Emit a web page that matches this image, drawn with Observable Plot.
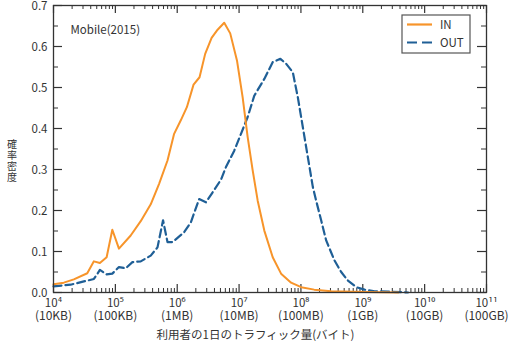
<!DOCTYPE html>
<html>
<head>
<meta charset="utf-8">
<script src="https://cdn.jsdelivr.net/npm/d3@7"></script>
<script src="https://cdn.jsdelivr.net/npm/@observablehq/plot@0.6"></script>
<style>
  html, body { margin: 0; padding: 0; background: #fff; }
  #chart { position: relative; width: 510px; height: 344px; }
</style>
</head>
<body>
<div id="chart"></div>
<script>
// ---- data (x given as log10 of bytes per user per day) ----
const inExp = [4.0, 4.167, 4.329, 4.546, 4.653, 4.75, 4.859, 4.951, 5.058, 5.248, 5.41, 5.572, 5.707, 5.843, 5.95, 6.058, 6.156, 6.264, 6.361, 6.452, 6.556, 6.653, 6.76, 6.857, 6.966, 7.058, 7.139, 7.22, 7.301, 7.408, 7.544, 7.679, 7.841, 8.003, 8.214, 8.489, 9.024, 9.575];
const inDensity = [0.02, 0.024, 0.032, 0.047, 0.076, 0.072, 0.086, 0.153, 0.107, 0.139, 0.174, 0.215, 0.265, 0.322, 0.387, 0.42, 0.452, 0.507, 0.525, 0.582, 0.621, 0.641, 0.658, 0.632, 0.566, 0.476, 0.379, 0.298, 0.224, 0.151, 0.086, 0.046, 0.024, 0.013, 0.007, 0.003, 0.001, 0.0];
const outExp = [4.0, 4.276, 4.491, 4.653, 4.75, 4.859, 4.951, 5.058, 5.167, 5.276, 5.41, 5.572, 5.681, 5.771, 5.843, 5.924, 6.112, 6.22, 6.355, 6.464, 6.598, 6.707, 6.788, 6.922, 7.031, 7.139, 7.246, 7.408, 7.545, 7.668, 7.76, 7.869, 7.95, 8.031, 8.112, 8.193, 8.246, 8.327, 8.408, 8.543, 8.651, 8.76, 8.895, 9.029, 9.191, 9.408, 9.731];
const outDensity = [0.015, 0.019, 0.027, 0.033, 0.055, 0.044, 0.046, 0.062, 0.059, 0.074, 0.076, 0.09, 0.11, 0.176, 0.123, 0.123, 0.147, 0.171, 0.228, 0.22, 0.25, 0.275, 0.306, 0.346, 0.387, 0.428, 0.48, 0.521, 0.562, 0.57, 0.558, 0.537, 0.476, 0.403, 0.33, 0.257, 0.224, 0.176, 0.127, 0.078, 0.05, 0.029, 0.013, 0.007, 0.003, 0.002, 0.0];

const tickExps = [4, 5, 6, 7, 8, 9, 10, 11];
const tickSup = ["⁴", "⁵", "⁶", "⁷", "⁸", "⁹", "¹⁰", "¹¹"];
const tickUnits = ["10KB", "100KB", "1MB", "10MB", "100MB", "1GB", "10GB", "100GB"];
const yTicks = [0, 0.1, 0.2, 0.3, 0.4, 0.5, 0.6, 0.7];

const seriesNames = ["IN", "OUT"];
const annotation = "Mobile(2015)";
const xTitle = "利用者の1日のトラフィック量(バイト)";
const yTitle = "確率密度";

// ---- styles ----
const ORANGE = "#f7942a";
const BLUE = "#1f5f96";
const INK = "#333";
const FONT = "'Noto Sans CJK JP', 'Noto Sans', sans-serif";

const W = 510, H = 344;
const mL = 53, mR = 24, mT = 5, mB = 52;
const innerW = W - mL - mR, innerH = H - mT - mB;

const inData = inExp.map((e, i) => ({bytes: 10 ** e, d: inDensity[i]}));
const outData = outExp.map((e, i) => ({bytes: 10 ** e, d: outDensity[i]}));

const majorX = tickExps.map(e => 10 ** e);
const minorX = [];
for (const e of tickExps.slice(0, -1)) for (let k = 2; k <= 9; k++) minorX.push(k * 10 ** e);
const minorY = yTicks.slice(0, -1).map(v => v + 0.05);
const supOf = new Map(majorX.map((v, i) => [v, "10" + tickSup[i]]));
const unitOf = new Map(majorX.map((v, i) => [v, "(" + tickUnits[i] + ")"]));

const plot = Plot.plot({
  width: W, height: H,
  marginLeft: mL, marginRight: mR, marginTop: mT, marginBottom: mB,
  style: {fontFamily: FONT, fontSize: "11px", color: INK, background: "#fff"},
  x: {type: "log", domain: [1e4, 1e11]},
  y: {domain: [0, 0.7]},
  marks: [
    Plot.axisX(majorX, {tickSize: 0, tickPadding: 6, tickFormat: v => supOf.get(v), fontSize: 11.5, label: null, fill: INK}),
    Plot.axisX(majorX, {tickSize: 0, tickPadding: 19, tickFormat: v => unitOf.get(v), fontSize: 12, label: null, fill: INK}),
    Plot.axisY(yTicks, {tickSize: 0, tickPadding: 6, fontSize: 11.5, dy: 1, label: null, fill: INK}),
    // inward ticks
    Plot.tickX(majorX, {x: d => d, insetTop: innerH - 8, stroke: INK, strokeWidth: 1.2}),
    Plot.tickX(minorX, {x: d => d, insetTop: innerH - 4, stroke: INK, strokeWidth: 1}),
    Plot.tickX(majorX, {x: d => d, insetBottom: innerH - 8, stroke: INK, strokeWidth: 1.2}),
    Plot.tickX(minorX, {x: d => d, insetBottom: innerH - 4, stroke: INK, strokeWidth: 1}),
    Plot.tickY(yTicks, {y: d => d, insetRight: innerW - 9, stroke: INK, strokeWidth: 1.2}),
    Plot.tickY(minorY, {y: d => d, insetRight: innerW - 5, stroke: INK, strokeWidth: 1}),
    Plot.tickY(yTicks, {y: d => d, insetLeft: innerW - 9, stroke: INK, strokeWidth: 1.2}),
    Plot.tickY(minorY, {y: d => d, insetLeft: innerW - 5, stroke: INK, strokeWidth: 1}),
    Plot.line(outData, {x: "bytes", y: "d", stroke: BLUE, strokeWidth: 2.2, strokeDasharray: "8,4"}),
    Plot.line(inData, {x: "bytes", y: "d", stroke: ORANGE, strokeWidth: 2}),
    Plot.frame({stroke: INK, strokeWidth: 1.3}),
    Plot.text([annotation], {frameAnchor: "top-left", dx: 17, dy: 20, textAnchor: "start", fontSize: 11.5, fill: INK}),
    Plot.text([xTitle], {frameAnchor: "bottom", dx: 255 - (mL + innerW / 2), dy: 46, fontSize: 11.5, fill: INK})
  ]
});
document.getElementById("chart").appendChild(plot);

const svg = d3.select(plot);

// ---- vertical y-axis title (upright stacked characters) ----
const yt = svg.append("g").style("font-family", FONT).attr("fill", INK).attr("font-size", 10).attr("text-anchor", "middle");
yTitle.split("").forEach((ch, i) => {
  yt.append("text").attr("x", 12).attr("y", 144 + i * 11).attr("dy", "0.36em").text(ch);
});

// ---- legend box (inside the plot frame, top-right) ----
const lg = svg.append("g").attr("transform", "translate(402,15)").style("font-family", FONT);
lg.append("rect").attr("width", 68).attr("height", 38).attr("fill", "#fff").attr("stroke", "#555").attr("stroke-width", 1.2);
const legendItems = [
  {name: seriesNames[0], color: ORANGE, dash: null},
  {name: seriesNames[1], color: BLUE, dash: "10,5"}
];
legendItems.forEach((it, i) => {
  const y = 9.5 + i * 18;
  lg.append("line").attr("x1", 5).attr("x2", 30).attr("y1", y).attr("y2", y)
    .attr("stroke", it.color).attr("stroke-width", 2.2).attr("stroke-dasharray", it.dash);
  lg.append("text").attr("x", 38).attr("y", y).attr("dy", "0.36em").attr("text-anchor", "start")
    .attr("font-size", 11.5).attr("fill", INK).text(it.name);
});
</script>
</body>
</html>
